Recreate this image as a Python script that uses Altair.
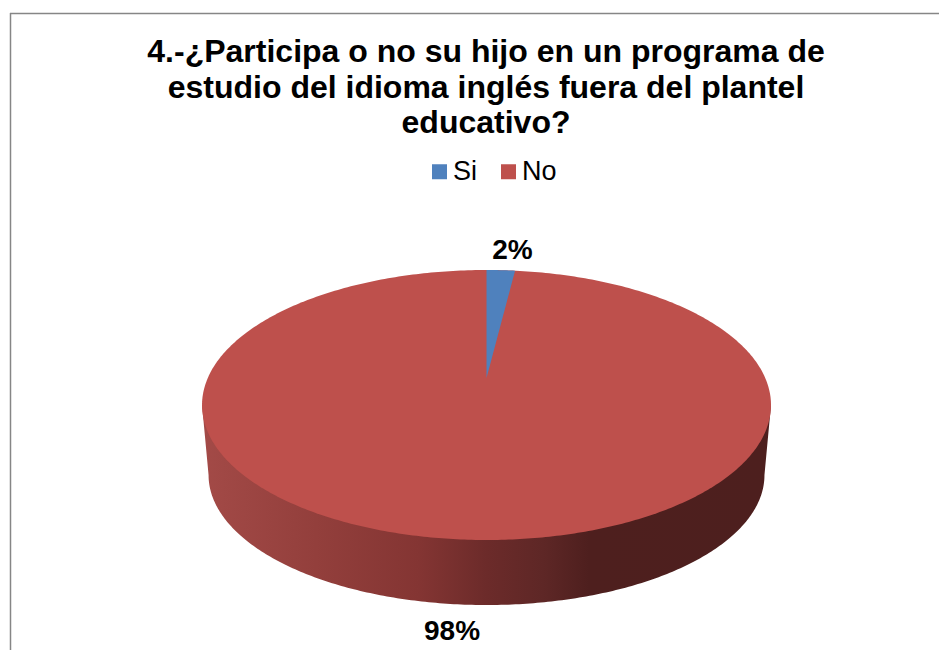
import numpy as np
import pandas as pd
import altair as alt

title_lines = [
    "4.-¿Participa o no su hijo en un programa de",
    "estudio del idioma inglés fuera del plantel",
    "educativo?",
]
categories = ["Si", "No"]
shares = [0.016, 0.984]
colors = ["#4F81BD", "#BE504C"]
label_x = [0.0914, -0.1213]
label_y = [1.081, -1.741]

# projected pie: unit top ellipse, a lower rim ellipse, and the apex of the slices
rim_a, rim_b, rim_cy = 0.977, 0.963, -0.519
apex_y = 0.2

t = np.linspace(0, np.pi, 241)
ux = -np.cos(t)
half = np.sqrt(np.clip(1 - ux**2, 0, 1))
top = pd.DataFrame({"x": ux, "y": half, "y2": -half, "cat": categories[1]})

edge = np.sin(2 * np.pi * shares[0])
wx = np.linspace(0, edge, 30)
wy = np.sqrt(1 - wx**2)
wedge = pd.DataFrame({"x": wx, "y": wy,
                      "y2": apex_y + (wy[-1] - apex_y) * wx / edge, "cat": categories[0]})

rx = rim_a * ux
wall = pd.DataFrame({
    "x": np.r_[-1.0, rx, 1.0],
    "y": np.zeros(len(rx) + 2),
    "y2": np.r_[0.0, rim_cy - rim_b * half, 0.0],
})

labels = pd.DataFrame({
    "x": label_x, "y": label_y,
    "text": [f"{round(s * 100)}%" for s in shares],
})

xs = alt.Scale(domain=[-1.682, 1.5905], nice=False, zero=False)
ys = alt.Scale(domain=[-1.815, 2.941], nice=False, zero=False)
X = alt.X("x:Q", scale=xs, axis=None)
Y = alt.Y("y:Q", scale=ys, axis=None)
Y2 = alt.Y2("y2:Q")
color = alt.Color("cat:N", scale=alt.Scale(domain=categories, range=colors),
                  legend=alt.Legend(title=None, orient="none", legendX=415, legendY=150,
                                    direction="horizontal", symbolType="square", symbolSize=225,
                                    symbolOffset=3,
                                    symbolStrokeWidth=0, symbolOpacity=1, labelFontSize=27,
                                    labelFont="Liberation Sans", labelColor="#000000",
                                    labelOffset=0, columnPadding=14, columns=2))

gradient = alt.Gradient(
    gradient="linear", x1=0, x2=1, y1=0, y2=0,
    stops=[
        alt.GradientStop(offset=0.0, color="#A34A47"),
        alt.GradientStop(offset=0.2, color="#933F3C"),
        alt.GradientStop(offset=0.38, color="#843533"),
        alt.GradientStop(offset=0.5, color="#6C2B2A"),
        alt.GradientStop(offset=0.6, color="#5E2726"),
        alt.GradientStop(offset=0.68, color="#4E1F1E"),
        alt.GradientStop(offset=1.0, color="#4D1F1E"),
    ],
)

frame_left = alt.Chart(wall.head(1)).mark_rule(color="#868686", strokeWidth=1.5).encode(
    x=alt.value(2.5), y=alt.value(5), y2=alt.value(642))
frame_top = alt.Chart(wall.head(1)).mark_rule(color="#868686", strokeWidth=1.5).encode(
    x=alt.value(2), x2=alt.value(931), y=alt.value(5.5))

wall_layer = alt.Chart(wall).mark_area(color=gradient).encode(x=X, y=Y, y2=Y2)
top_layer = alt.Chart(top).mark_area().encode(x=X, y=Y, y2=Y2, color=color)
wedge_layer = alt.Chart(wedge).mark_area().encode(x=X, y=Y, y2=Y2, color=color)
text_layer = alt.Chart(labels).mark_text(
    font="Liberation Sans", fontWeight="bold", fontSize=28, color="#000000", baseline="alphabetic"
).encode(x=X, y=Y, text="text:N")

chart = alt.layer(
    frame_left, frame_top, wall_layer, top_layer, wedge_layer, text_layer
).properties(
    width=931, height=642, padding=0, autosize=alt.AutoSizeParams(type="none"),
    background="#FFFFFF",
    title=alt.TitleParams(text=title_lines, anchor="middle", frame="group", dx=12.5, offset=-132,
                          font="Liberation Sans", fontWeight="bold", fontSize=32,
                          lineHeight=35.5, color="#000000"),
).configure_view(stroke=None)

chart.save("out.html", embed_options={"renderer": "svg", "actions": False})
